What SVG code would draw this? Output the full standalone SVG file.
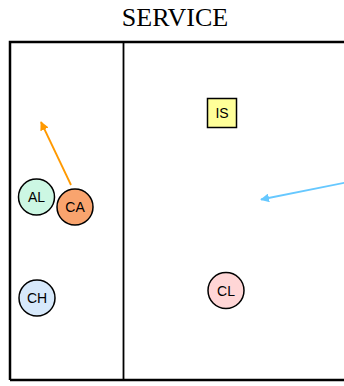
<svg xmlns="http://www.w3.org/2000/svg" width="344" height="386" viewBox="0 0 344 386">
<defs>
<style>
.node{stroke:#000;stroke-width:1.5}
.lbl{font-family:"Liberation Sans",Arial,sans-serif;font-size:14px;fill:#000;text-anchor:middle;dominant-baseline:central}
.title{font-family:"Liberation Serif","Times New Roman",serif;font-size:26px;fill:#000;text-anchor:middle}
</style>
<marker id="ao" viewBox="0 0 10 10" refX="9" refY="5" markerWidth="5" markerHeight="5" orient="auto"><path d="M0,0 L10,5 L0,10 z" fill="#ff9900"/></marker>
<marker id="ab" viewBox="0 0 10 10" refX="9" refY="5" markerWidth="5" markerHeight="5" orient="auto"><path d="M0,0 L10,5 L0,10 z" fill="#66c8ff"/></marker>
</defs>
<rect width="344" height="386" fill="#fff"/>
<text class="title" x="175" y="26">SERVICE</text>
<g id="frame" fill="none" stroke="#000">
<path d="M10,380 L10,42 L346,42" stroke-width="2.5"/>
<path d="M10,380 L346,380" stroke-width="2.5"/>
<line x1="123.5" y1="42" x2="123.5" y2="380" stroke-width="1.8"/>
</g>
<g id="connectors" fill="none" stroke-width="1.8">
<line x1="71" y1="185" x2="41" y2="122" stroke="#ff9900" marker-end="url(#ao)"/>
<line x1="346" y1="182.5" x2="261" y2="199.5" stroke="#66c8ff" marker-end="url(#ab)"/>
</g>
<g id="IS"><rect class="node" x="207.5" y="98.5" width="29" height="29" fill="#ffff99"/><text class="lbl" x="222" y="113">IS</text></g>
<g id="AL"><circle class="node" cx="36.5" cy="197" r="18" fill="#ccf7e3"/><text class="lbl" x="36.5" y="197">AL</text></g>
<g id="CA"><circle class="node" cx="75" cy="207" r="18" fill="#f9a46e"/><text class="lbl" x="75" y="207">CA</text></g>
<g id="CH"><circle class="node" cx="37" cy="298" r="18" fill="#d7e9fb"/><text class="lbl" x="37" y="298">CH</text></g>
<g id="CL"><circle class="node" cx="226" cy="290.5" r="18" fill="#ffd6d6"/><text class="lbl" x="226" y="290.5">CL</text></g>
</svg>
